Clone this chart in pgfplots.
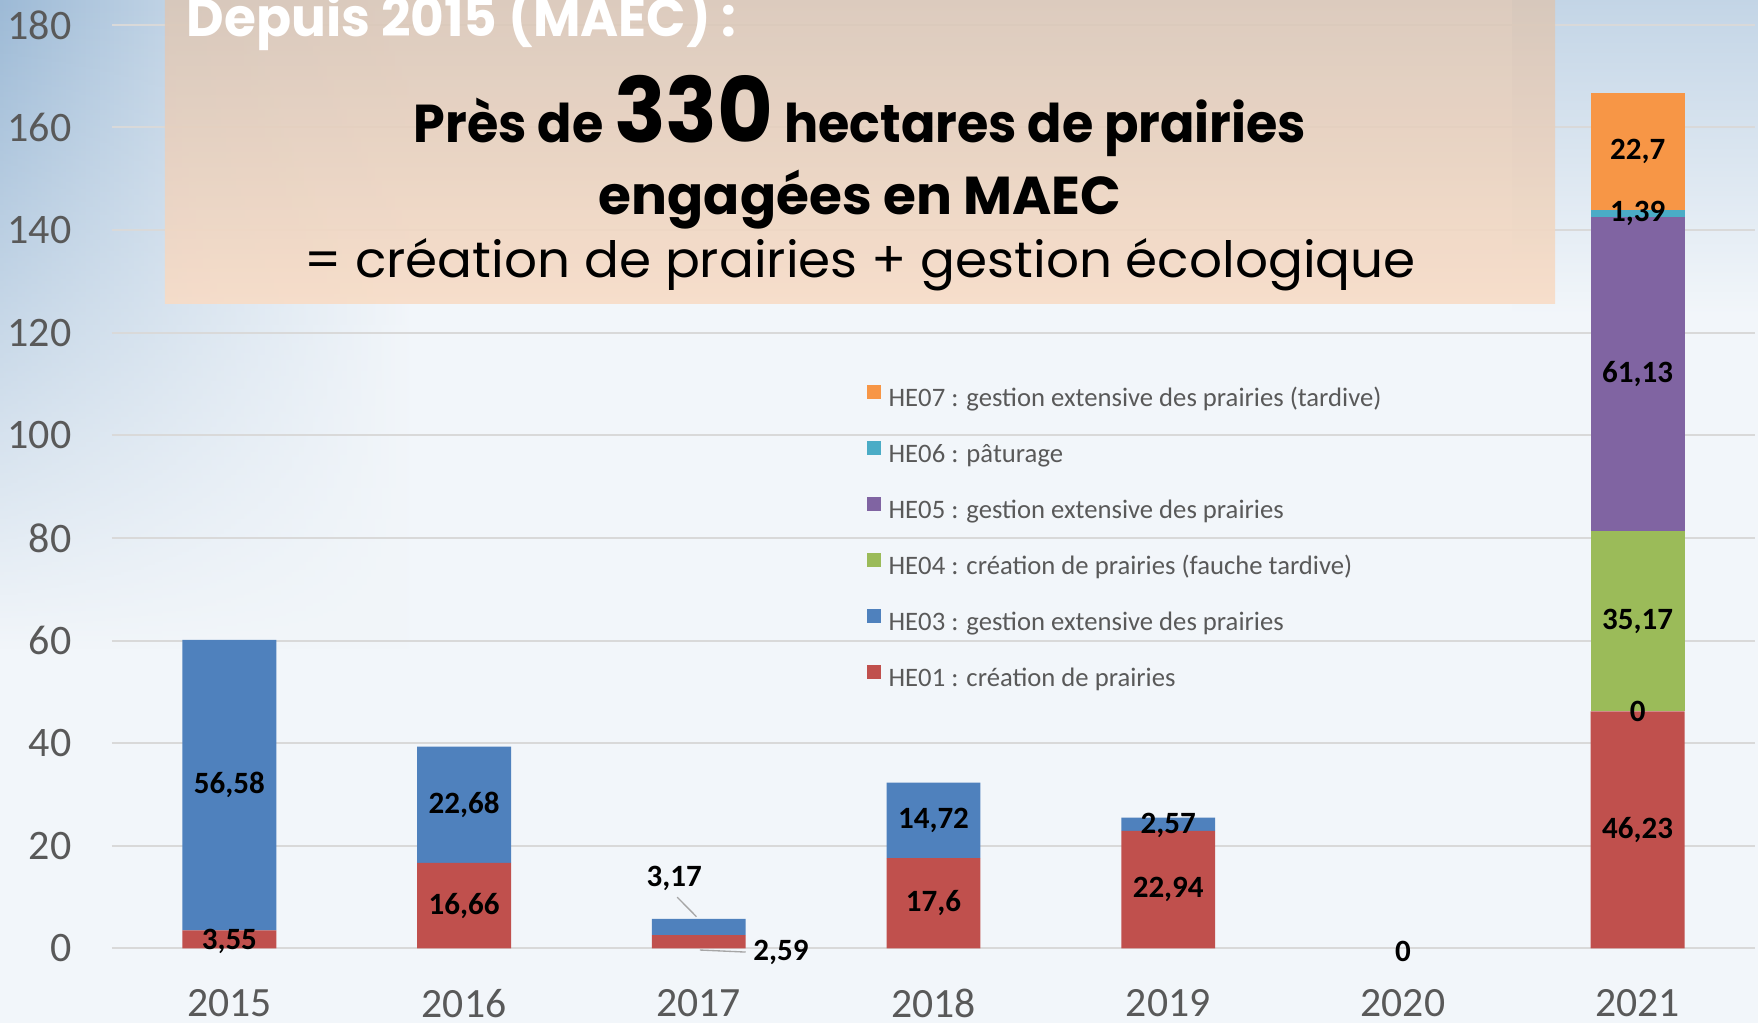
\documentclass[border=0pt]{standalone}
\usepackage{graphicx}
\usepackage{pgfplots}
\pgfplotsset{compat=1.18}
\usetikzlibrary{fadings}
\usepackage{fontspec}
\setmainfont{Carlito}
\newfontfamily\titlefont{Poppins}
\definecolor{cHEa}{HTML}{C0504D}
\definecolor{cHEc}{HTML}{4F81BD}
\definecolor{cHEd}{HTML}{9BBB59}
\definecolor{cHEe}{HTML}{8064A2}
\definecolor{cHEf}{HTML}{4BACC6}
\definecolor{cHEg}{HTML}{F79646}
\definecolor{bgc}{HTML}{F2F6FA}
\definecolor{skyc}{HTML}{9DBAD6}
\definecolor{gridc}{HTML}{D9D9D9}
\definecolor{tickc}{HTML}{595959}
\definecolor{boxtop}{HTML}{DAC7B8}
\definecolor{boxbot}{HTML}{F8DCC6}
\tikzfading[name=skyfade, top color=transparent!0, bottom color=transparent!100]
\begin{document}
\begin{tikzpicture}
\useasboundingbox (-33.6pt,-22.35pt) rectangle (493.8pt,284.55pt);
\fill[bgc] (-33.6pt,-22.35pt) rectangle (493.8pt,284.55pt);
\shade[left color=skyc, right color=bgc, path fading=skyfade] (-33.6pt,90pt) rectangle (90pt,284.55pt);
\shade[top color=skyc!55!bgc, bottom color=bgc] (420pt,190pt) rectangle (493.8pt,284.55pt);
\begin{axis}[
  at={(0pt,0pt)}, anchor=south west,
  width=492.9pt, height=277.1pt, scale only axis,
  xmin=-0.5, xmax=6.5, ymin=0, ymax=180,
  ybar stacked, bar width=0.4,
  xtick={0,1,2,3,4,5,6}, xticklabels={2015,2016,2017,2018,2019,2020,2021},
  ytick={0,20,...,180},
  ymajorgrids, grid style={color=gridc, line width=0.6pt},
  axis line style={draw=none}, major tick length=0pt,
  tick label style={color=tickc},
  yticklabel style={font=\fontsize{12.6}{13}\selectfont, inner sep=0pt, xshift=-12pt},
  xticklabel style={font=\fontsize{12.5}{13}\selectfont, inner sep=0pt, yshift=-12pt},
  /pgf/number format/assume math mode=true,
  reverse legend, legend cell align=left,
  legend style={at={(0.4589,0.6105)}, anchor=north west, draw=none, fill=none,
    inner sep=0pt, font=\fontsize{8}{8}\selectfont, text=tickc,
    row sep=8.4pt, column sep=2.4pt,
    nodes={inner sep=0pt, text height=6pt, text depth=2pt}},
]
\addplot[fill=cHEa, draw=none, legend image code/.code={\fill[cHEa] (0pt,0.2pt) rectangle (4.2pt,4.4pt);}]
  coordinates {(0,3.55)(1,16.66)(2,2.59)(3,17.6)(4,22.94)(5,0)(6,46.23)};
\addlegendentry{HE01 : création de prairies}
\addplot[fill=cHEc, draw=none, legend image code/.code={\fill[cHEc] (0pt,0.2pt) rectangle (4.2pt,4.4pt);}]
  coordinates {(0,56.58)(1,22.68)(2,3.17)(3,14.72)(4,2.57)(5,0)(6,0)};
\addlegendentry{HE03 : gestion extensive des prairies}
\addplot[fill=cHEd, draw=none, legend image code/.code={\fill[cHEd] (0pt,0.2pt) rectangle (4.2pt,4.4pt);}]
  coordinates {(0,0)(1,0)(2,0)(3,0)(4,0)(5,0)(6,35.17)};
\addlegendentry{HE04 : création de prairies (fauche tardive)}
\addplot[fill=cHEe, draw=none, legend image code/.code={\fill[cHEe] (0pt,0.2pt) rectangle (4.2pt,4.4pt);}]
  coordinates {(0,0)(1,0)(2,0)(3,0)(4,0)(5,0)(6,61.13)};
\addlegendentry{HE05 : gestion extensive des prairies}
\addplot[fill=cHEf, draw=none, legend image code/.code={\fill[cHEf] (0pt,0.2pt) rectangle (4.2pt,4.4pt);}]
  coordinates {(0,0)(1,0)(2,0)(3,0)(4,0)(5,0)(6,1.39)};
\addlegendentry{HE06 : pâturage}
\addplot[fill=cHEg, draw=none, legend image code/.code={\fill[cHEg] (0pt,0.2pt) rectangle (4.2pt,4.4pt);}]
  coordinates {(0,0)(1,0)(2,0)(3,0)(4,0)(5,0)(6,22.7)};
\addlegendentry{HE07 : gestion extensive des prairies (tardive)}
\end{axis}
\shade[top color=boxtop, bottom color=boxbot, opacity=0.9] (15.9pt,193.35pt) rectangle (432.9pt,284.55pt);
\node[anchor=base west, inner sep=0pt, text=white, font=\titlefont\bfseries\fontsize{16}{16}\selectfont] at (22.2pt,273.45pt) {\scalebox{0.97}[1]{Depuis 2015 (MAEC) :}};
\node[anchor=base, inner sep=0pt, font=\titlefont\bfseries\fontsize{16}{16}\selectfont] at (224.4pt,241.65pt) {\scalebox{0.952}[1]{Près de {\fontsize{27}{27}\selectfont 330} hectares de prairies}};
\node[anchor=base, inner sep=0pt, font=\titlefont\bfseries\fontsize{16}{16}\selectfont] at (224.4pt,220.05pt) {engagées en MAEC};
\node[anchor=base, inner sep=0pt, font=\titlefont\fontsize{15}{15}\selectfont] at (224.4pt,201.15pt) {\scalebox{1.033}[1]{= création de prairies + gestion écologique}};
\begin{axis}[
  at={(0pt,0pt)}, anchor=south west,
  width=492.9pt, height=277.1pt, scale only axis,
  xmin=-0.5, xmax=6.5, ymin=0, ymax=180,
  hide axis, clip=false,
]
\addplot[only marks, mark=none, nodes near coords, point meta=explicit symbolic,
  nodes near coords style={font=\bfseries\fontsize{9.3}{10}\selectfont, anchor=center, text=black, inner sep=0pt}]
  table[meta=lab] {
x y lab
0 31.84 56,58
0 1.3 3,55
1 28.0 22,68
1 8.33 16,66
1.895 13.7 3,17
2.35 -0.7 2,59
3 8.8 17,6
3 24.96 14,72
4 11.47 22,94
4 23.9 2,57
5 -0.5 0
6 23.1 46,23
6 46.23 0
6 63.8 35,17
6 111.97 61,13
6 143.2 1,39
6 155.27 22,7
};
\draw[gray!70, line width=0.4pt] (axis cs:1.908,10.0) -- (axis cs:1.99,6.2);
\draw[gray!70, line width=0.4pt] (axis cs:2.005,-0.3) -- (axis cs:2.2,-0.7);
\end{axis}
\end{tikzpicture}
\end{document}
